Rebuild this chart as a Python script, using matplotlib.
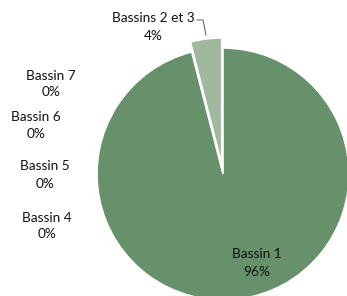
import matplotlib.pyplot as plt

labels = ['Bassin 1', 'Bassins 2 et 3', 'Bassin 4', 'Bassin 5', 'Bassin 6', 'Bassin 7']
values = [96, 4, 0, 0, 0, 0]
colors = ['#67916A', '#A0B99E', '#67916A', '#67916A', '#67916A', '#67916A']

# label anchor points in pixels (x, y from top)
label_pos = [(257, 263), (153, 27), (47, 226), (45, 175), (36, 125), (51, 84)]

plt.rcParams['font.family'] = ['Lato', 'DejaVu Sans']
fig = plt.figure(figsize=(3.47, 2.96), dpi=100)

cx, cy, r = 223, 174, 126
W, H = 347, 296
ax = fig.add_axes([(cx - r) / W, (H - cy - r) / H, 2 * r / W, 2 * r / H])

nz = [(v, c) for v, c in zip(values, colors) if v > 0]
ax.pie([v for v, c in nz], colors=[c for v, c in nz], startangle=90,
       counterclock=False, explode=[0, 0.08],
       wedgeprops=dict(edgecolor='white', linewidth=1.2))
ax.set_xlim(-1, 1)
ax.set_ylim(-1, 1)
ax.set_aspect('equal')
ax.axis('off')

for name, v, (x, y) in zip(labels, values, label_pos):
    fig.text(x / W, 1 - y / H, f'{name}\n{v}%', ha='center', va='center',
             fontsize=9.8, color='#111111', linespacing=1.5)

# leader line for the small slice
fig.add_artist(plt.Line2D([197 / W, 203 / W, 206 / W],
                          [1 - 20 / H, 1 - 20 / H, 1 - 35 / H],
                          color='#555555', lw=0.7))

fig.savefig('out.png', dpi=100)
